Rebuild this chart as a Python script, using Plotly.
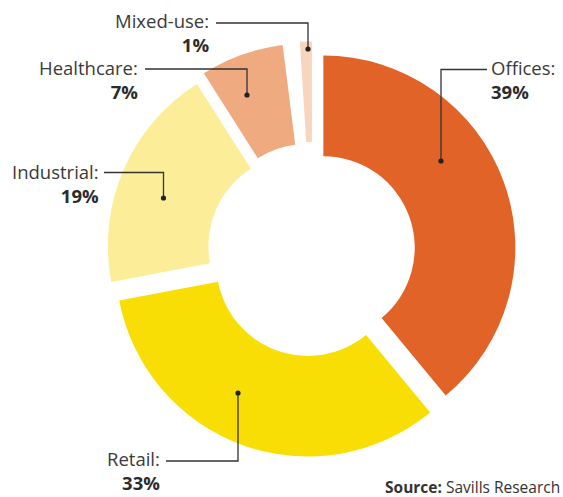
import plotly.graph_objects as go

# ---- data ----
categories = ["Offices", "Retail", "Industrial", "Healthcare", "Mixed-use"]
shares = [39, 33, 19, 7, 1]          # percent
source_note = "Savills Research"

# ---- styling (not data) ----
colors = ["#E26327", "#F9DE06", "#FCEE98", "#F0AA80", "#F9D5BE"]
pulls = [0.06, 0.072, 0.072, 0.089, 0.094]
W, H = 563, 497
FONT = "Open Sans"
TXT = "#3a3a3a"

# unallocated remainder shown as an empty wedge (between Healthcare and Mixed-use)
remainder = 100 - sum(shares)
labels = categories[:4] + [" "] + categories[4:]
values = shares[:4] + [remainder] + shares[4:]
slice_colors = colors[:4] + ["rgba(0,0,0,0)"] + colors[4:]
slice_pulls = pulls[:4] + [0] + pulls[4:]

def px(x): return x / W
def py(y): return 1 - y / H

# pie placement in pixels -> paper domain
R, CX, CY = 192, 312.5, 251.5
side = 2 * R * (1 + max(slice_pulls))
dom_x = [px(CX - side / 2), px(CX + side / 2)]
dom_y = [py(CY + side / 2), py(CY - side / 2)]

fig = go.Figure(go.Pie(
    labels=labels, values=values, sort=False, direction="clockwise", rotation=0,
    hole=0.476, pull=slice_pulls, textinfo="none", hoverinfo="label+percent",
    marker=dict(colors=slice_colors, line=dict(width=0)),
    domain=dict(x=dom_x, y=dom_y), showlegend=False,
))

# label layout in pixels (x = text edge, y = centre of the two-line block)
label_layout = {
    "Offices":    dict(x=490, y=80, anchor="left",
                       path=[(487, 69.5), (441, 69.5), (441, 161)]),
    "Retail":     dict(x=161, y=470.5, anchor="right",
                       path=[(166, 461), (238, 461), (238, 393)]),
    "Industrial": dict(x=100, y=183, anchor="right",
                       path=[(104, 172.5), (163.5, 172.5), (163.5, 198)]),
    "Healthcare": dict(x=139, y=79, anchor="right",
                       path=[(145, 69), (247, 69), (247, 95)]),
    "Mixed-use":  dict(x=210, y=32.5, anchor="right",
                       path=[(216, 23), (308, 23), (308, 49)]),
}

annotations, shapes = [], []
for cat, val in zip(categories, shares):
    L = label_layout[cat]
    annotations.append(dict(x=px(L["x"]), y=py(L["y"]), xref="paper", yref="paper",
                            text=f"{cat}:<br><b><span style='color:#2b2b2b'>{val}%</span></b>",
                            showarrow=False, xanchor=L["anchor"], yanchor="middle",
                            align=L["anchor"], borderpad=0,
                            font=dict(family=FONT, size=18.5, color=TXT)))
    pts = L["path"]
    d = "M " + " L ".join(f"{px(a)},{py(b)}" for a, b in pts)
    shapes.append(dict(type="path", path=d, xref="paper", yref="paper",
                       line=dict(color="#333333", width=1.3)))
    dx, dy = pts[-1]
    r = 2.6
    shapes.append(dict(type="circle", xref="paper", yref="paper",
                       x0=px(dx - r), x1=px(dx + r), y0=py(dy + r), y1=py(dy - r),
                       fillcolor="#222222", line=dict(width=0)))

annotations.append(dict(x=px(561), y=py(486.5), xref="paper", yref="paper",
                        text=f"<b>Source:</b> {source_note}", showarrow=False,
                        xanchor="right", yanchor="middle", borderpad=0,
                        font=dict(family=FONT, size=15.5, color="#333333")))

fig.update_layout(width=W, height=H, margin=dict(l=0, r=0, t=0, b=0),
                  paper_bgcolor="white", plot_bgcolor="white",
                  annotations=annotations, shapes=shapes)

fig.write_html("out.html", config={"displayModeBar": False},
               post_script="document.body.style.margin='0';document.body.style.overflow='hidden';")
